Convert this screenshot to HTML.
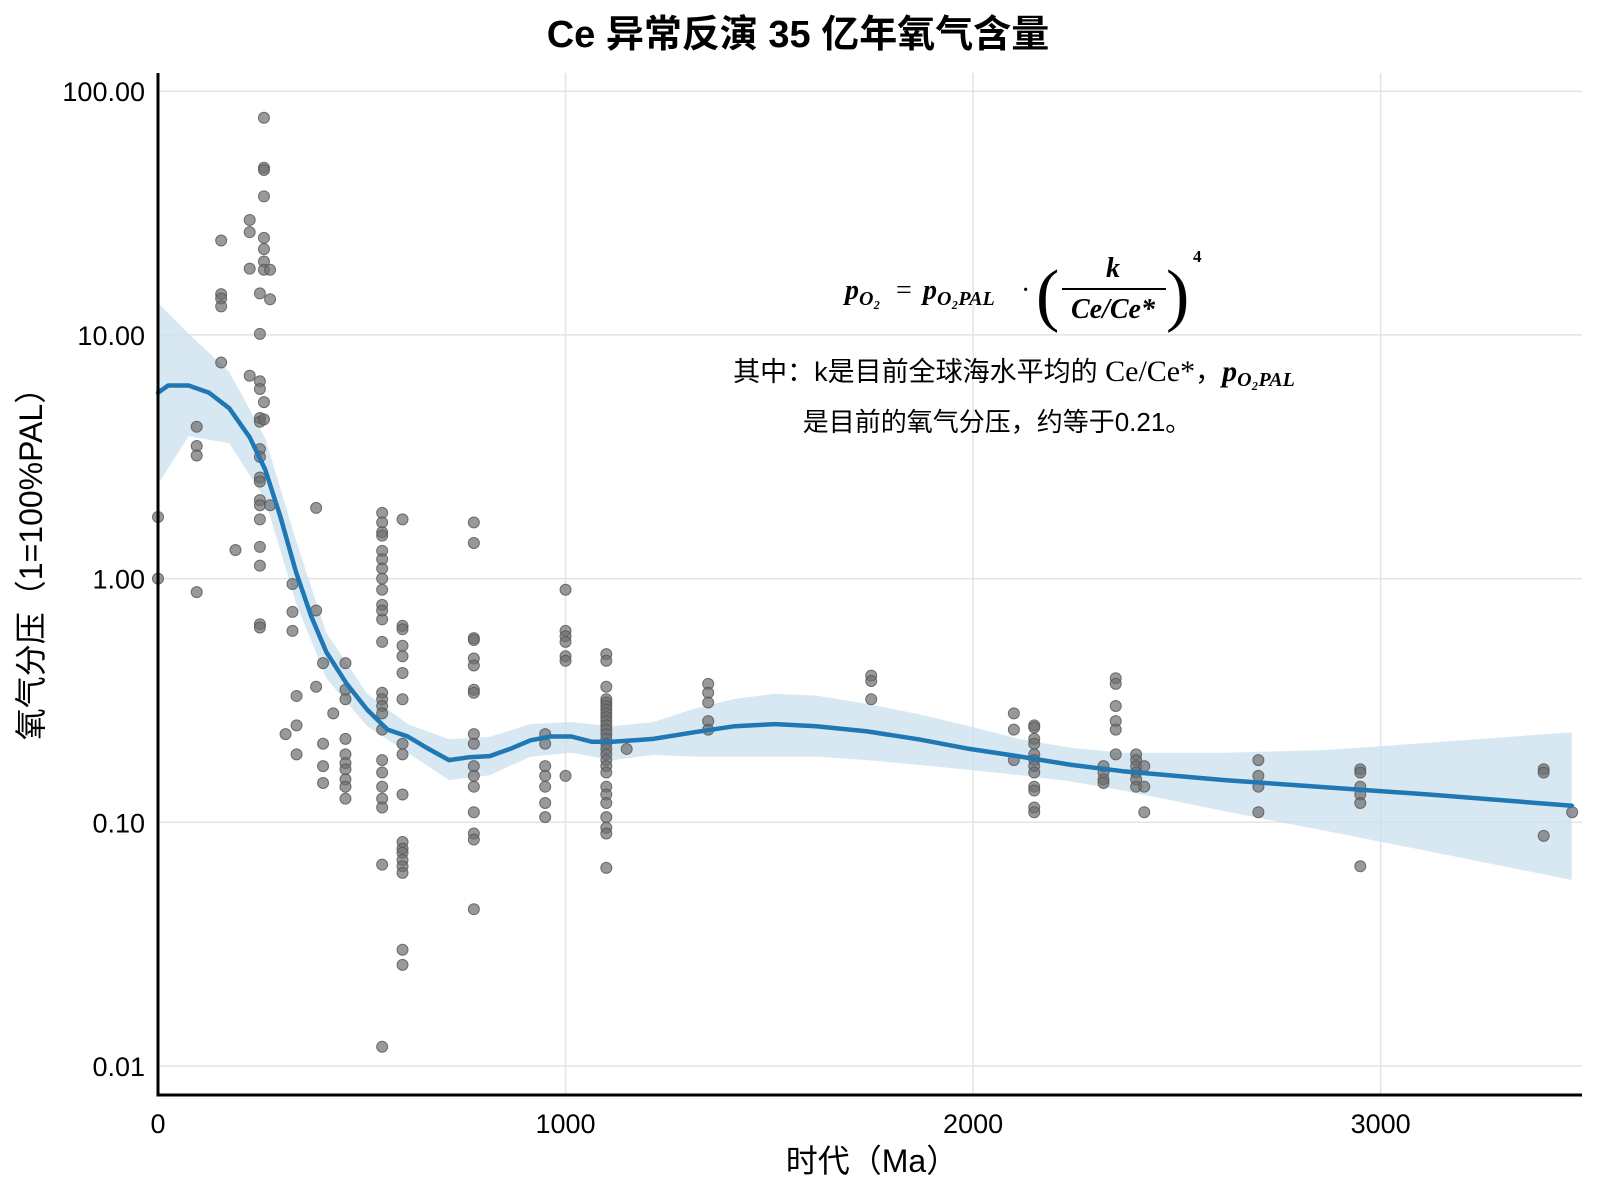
<!DOCTYPE html>
<html><head><meta charset="utf-8">
<style>
html,body{margin:0;padding:0;background:#fff;}
svg{display:block;}
text{font-family:"Liberation Sans","Noto Sans CJK SC",sans-serif;}
text.m, tspan.m{font-family:"Liberation Serif",serif;}
</style></head>
<body>
<svg id="chart" width="1600" height="1200" viewBox="0 0 1600 1200" xmlns="http://www.w3.org/2000/svg">
<text x="798" y="47" text-anchor="middle" font-size="38" font-weight="bold" fill="#000">Ce 异常反演 35 亿年氧气含量</text>
<g id="grid"></g>
<g id="band"></g>
<g id="pts"></g>
<g id="fit"></g>
<g id="axes"></g>
<text x="872" y="1172" text-anchor="middle" font-size="32" fill="#000">时代（Ma）</text>
<text transform="translate(42,556) rotate(-90)" text-anchor="middle" font-size="32" fill="#000">氧气分压（1=100%PAL）</text>
<g fill="#000">
  <text class="m" x="845" y="299" font-size="28" font-style="italic" font-weight="bold">p<tspan class="m" font-size="20" dy="6">O₂</tspan></text>
  <text class="m" x="896" y="299" font-size="28">=</text>
  <text class="m" x="923" y="299" font-size="28" font-style="italic" font-weight="bold">p<tspan class="m" font-size="20" dy="6">O₂PAL</tspan></text>
  <text class="m" x="1021" y="299" font-size="28">·</text>
  <text class="m" x="1036" y="318" font-size="70">(</text>
  <text class="m" x="1113" y="277" font-size="28" font-style="italic" font-weight="bold" text-anchor="middle">k</text>
  <line x1="1062" y1="289" x2="1166" y2="289" stroke="#000" stroke-width="2"/>
  <text class="m" x="1113" y="318" font-size="28" font-style="italic" font-weight="bold" text-anchor="middle">Ce/Ce*</text>
  <text class="m" x="1166" y="318" font-size="70">)</text>
  <text class="m" x="1193" y="262" font-size="17" font-weight="bold">4</text>
</g>
<text x="1014" y="381" text-anchor="middle" font-size="27" fill="#000">其中：k是目前全球海水平均的 <tspan class="m" font-size="30">Ce/Ce*</tspan>，<tspan class="m" font-style="italic" font-weight="bold" font-size="30">p</tspan><tspan class="m" font-style="italic" font-weight="bold" font-size="20" dy="5">O₂PAL</tspan></text>
<text x="997" y="431" text-anchor="middle" font-size="26" fill="#000">是目前的氧气分压，约等于0.21。</text>
</svg>
<script>
const xTicks = [0, 1000, 2000, 3000];
const yTicks = [0.01, 0.1, 1, 10, 100];
const yTickLabels = ["0.01", "0.10", "1.00", "10.00", "100.00"];
const pointAges = [0,0,95,95,95,95,155,155,155,155,155,190,225,225,225,225,
250,250,250,250,250,250,250,250,250,250,250,250,250,250,250,250,250,
260,260,260,260,260,260,260,260,260,260,275,275,275,330,330,330,340,340,340,313,
388,388,388,405,405,405,405,430,460,460,460,460,460,460,460,460,460,460,
550,550,550,550,550,550,550,550,550,550,550,550,550,550,550,550,550,550,550,550,550,550,550,550,550,
600,600,600,600,600,600,600,600,600,600,600,600,600,600,600,600,600,600,
775,775,775,775,775,775,775,775,775,775,775,775,775,775,775,775,775,
950,950,950,950,950,950,950,1000,1000,1000,1000,1000,1000,1000,
1100,1100,1100,1100,1100,1100,1100,1100,1100,1100,1100,1100,1100,1100,1100,1100,1100,1100,1100,1100,1100,1100,1100,1100,1100,1100,1100,
1150,1350,1350,1350,1350,1350,1750,1750,1750,2100,2100,2100,
2150,2150,2150,2150,2150,2150,2150,2150,2150,2150,2150,2150,
2320,2320,2320,2320,2350,2350,2350,2350,2350,2350,2400,2400,2400,2400,2400,2400,2420,2420,2420,
2700,2700,2700,2700,2950,2950,2950,2950,2950,2950,3400,3400,3400,3470];
const pointValues = [1.79,1.0,4.2,3.5,3.2,0.88,24.4,14.7,14.1,13.1,7.7,1.31,29.6,26.4,18.7,6.8,
14.8,10.1,6.45,6.0,4.56,4.4,3.4,3.16,2.6,2.5,2.1,2.0,1.75,1.35,1.13,0.65,0.63,
77.8,48.5,47.5,37,25,22.5,20,18.5,5.3,4.5,18.5,14,2.0,0.95,0.73,0.61,0.33,0.25,0.19,0.23,
1.95,0.74,0.36,0.45,0.21,0.17,0.145,0.28,0.45,0.35,0.32,0.22,0.19,0.175,0.165,0.15,0.14,0.125,
0.012,1.86,1.7,1.55,1.5,1.3,1.2,1.1,1.0,0.9,0.78,0.68,0.74,0.55,0.34,0.32,0.30,0.28,0.24,0.18,0.16,0.14,0.125,0.115,0.067,
1.75,0.64,0.62,0.53,0.48,0.41,0.32,0.21,0.19,0.13,0.083,0.078,0.075,0.07,0.066,0.062,0.03,0.026,
1.7,1.4,0.57,0.56,0.47,0.44,0.35,0.34,0.23,0.21,0.17,0.155,0.14,0.11,0.09,0.085,0.044,
0.23,0.21,0.17,0.155,0.14,0.12,0.105,0.9,0.61,0.58,0.55,0.48,0.46,0.155,
0.49,0.46,0.36,0.32,0.31,0.30,0.29,0.28,0.27,0.26,0.25,0.24,0.23,0.22,0.21,0.20,0.19,0.18,0.17,0.16,0.14,0.13,0.12,0.105,0.095,0.09,0.065,
0.2,0.37,0.34,0.31,0.26,0.24,0.40,0.38,0.32,0.28,0.24,0.18,
0.25,0.245,0.22,0.21,0.19,0.18,0.17,0.16,0.14,0.135,0.115,0.11,
0.17,0.16,0.15,0.145,0.39,0.37,0.30,0.26,0.24,0.19,0.19,0.18,0.17,0.16,0.15,0.14,0.17,0.14,0.11,
0.18,0.155,0.14,0.11,0.165,0.16,0.14,0.13,0.12,0.066,0.165,0.16,0.088,0.11];
const fitAges = [0,25,75,125,175,225,263,300,338,376,413,463,513,563,613,664,714,764,814,864,914,964,1014,1065,1115,1215,1315,1415,1515,1615,1740,1866,1991,2116,2241,2367,2617,2868,3118,3469];
const fitValues = [5.8,6.2,6.2,5.8,5.0,3.8,2.8,1.8,1.07,0.70,0.50,0.37,0.29,0.24,0.225,0.20,0.18,0.185,0.187,0.20,0.217,0.225,0.225,0.214,0.214,0.22,0.234,0.248,0.253,0.248,0.236,0.219,0.20,0.186,0.172,0.162,0.149,0.139,0.130,0.117];
const bandAges = [0,75,175,263,338,413,513,613,714,814,914,1014,1115,1215,1315,1415,1515,1615,1740,1866,1991,2116,2241,2367,2617,2868,3118,3469];
const bandUpper = [13.5,10.1,7.05,3.77,1.44,0.60,0.337,0.253,0.219,0.224,0.253,0.258,0.248,0.258,0.292,0.321,0.337,0.331,0.306,0.278,0.248,0.219,0.202,0.193,0.193,0.198,0.212,0.234];
const bandLower = [2.44,3.84,3.59,2.11,0.80,0.39,0.248,0.193,0.149,0.156,0.186,0.193,0.180,0.189,0.186,0.186,0.186,0.186,0.180,0.172,0.164,0.156,0.147,0.135,0.111,0.092,0.076,0.058];

const NS = "http://www.w3.org/2000/svg";
const X0 = 158, XPER = 0.40755, PL = 158, PR = 1582, PT = 73, PB = 1095;
const Y0 = 578.6, DEC = 243.7;
function xs(a){ return X0 + a*XPER; }
function ys(v){ return Y0 - Math.log10(v)*DEC; }
function mk(tag, attrs, parent){ const e=document.createElementNS(NS,tag); for(const k in attrs) e.setAttribute(k, attrs[k]); parent.appendChild(e); return e; }

const grid = document.getElementById('grid');
xTicks.forEach(t=>{
  if(t>0){
    const l = mk('line',{x1:xs(t),x2:xs(t),y1:PT,y2:PB,stroke:'#e3e3e3','stroke-width':1.5},grid);
    
    
  }
});
yTicks.forEach(t=>{
  const l = mk('line',{x1:PL,x2:PR,y1:ys(t),y2:ys(t),stroke:'#e3e3e3','stroke-width':1.5},grid);
  
  
});

const band = document.getElementById('band');
let d = '';
bandAges.forEach((a,i)=>{ d += (i?'L':'M') + xs(a).toFixed(1) + ',' + ys(bandUpper[i]).toFixed(1); });
for(let i=bandAges.length-1;i>=0;i--){ d += 'L' + xs(bandAges[i]).toFixed(1) + ',' + ys(bandLower[i]).toFixed(1); }
const bp = mk('path',{d:d+'Z',fill:'#c9e0ef','fill-opacity':0.75},band);



const pts = document.getElementById('pts');
pointAges.forEach((a,i)=>{
  const c = mk('circle',{cx:xs(a),cy:ys(pointValues[i]),r:5.5,fill:'#6e6e6e','fill-opacity':0.7,stroke:'#555','stroke-opacity':0.8,'stroke-width':1},pts);
  
  
});

const fit = document.getElementById('fit');
let fd = '';
fitAges.forEach((a,i)=>{ fd += (i?'L':'M') + xs(a).toFixed(1) + ',' + ys(fitValues[i]).toFixed(1); });
const fp = mk('path',{d:fd,fill:'none',stroke:'#1f77b4','stroke-width':4.5,'stroke-linejoin':'round','stroke-linecap':'round'},fit);



const axes = document.getElementById('axes');
const ya = mk('line',{x1:PL,x2:PL,y1:PT,y2:PB+1.5,stroke:'#000','stroke-width':3},axes);


const xa = mk('line',{x1:PL-1.5,x2:PR,y1:PB,y2:PB,stroke:'#000','stroke-width':3},axes);


xTicks.forEach(t=>{
  const tx = mk('text',{x:xs(t),y:1133,'text-anchor':'middle','font-size':27,fill:'#000'},axes);
  tx.textContent = String(t);
  
  
});
yTicks.forEach((t,i)=>{
  const tx = mk('text',{x:145,y:ys(t)+10,'text-anchor':'end','font-size':27,fill:'#000'},axes);
  tx.textContent = yTickLabels[i];
  
  
});
</script>
</body></html>
